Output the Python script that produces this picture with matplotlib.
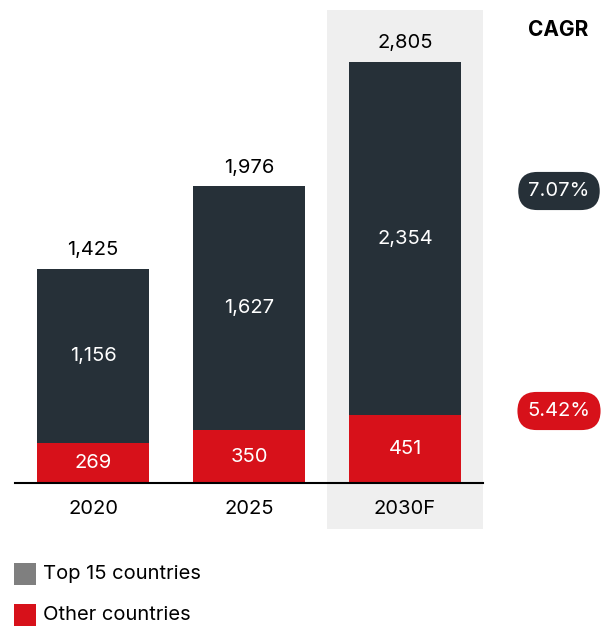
import matplotlib
matplotlib.use("Agg")
import matplotlib.pyplot as plt
import numpy as np

years = ["2020", "2025", "2030F"]
top15 = [1156, 1627, 2354]
other = [269, 350, 451]
totals = [1425, 1976, 2805]
cagr_labels = ["7.07%", "5.42%"]
legend_labels = ["Top 15 countries", "Other countries"]

DARK = "#263038"
RED = "#D7111A"
BG = "#EFEFEF"
LEG_GREY = "#7F7F7F"

plt.rcParams["font.family"] = ["Inter", "DejaVu Sans"]
FS = 14.5

W, H = 606, 626
fig = plt.figure(figsize=(W / 100, H / 100), dpi=100)

# main plotting area in pixel terms
left_px, right_px, base_px, top_px = 15, 483, 483, 10
ax = fig.add_axes([left_px / W, (H - base_px) / H,
                   (right_px - left_px) / W, (base_px - top_px) / H])

x = np.arange(len(years))
ymax = 2805 * (base_px - top_px) / (base_px - 62)
ax.set_xlim(-0.5, 2.5)
ax.set_ylim(0, ymax)

# forecast highlight band, extending under the category labels
ax_h = base_px - top_px
ax.axvspan(1.5, 2.5, ymin=-(529 - base_px) / ax_h, ymax=1, color=BG,
           zorder=0, clip_on=False, lw=0)

bw = 112 / 156
ax.bar(x, other, width=bw, color=RED, zorder=2)
ax.bar(x, top15, width=bw, bottom=other, color=DARK, zorder=2)

for i in range(len(years)):
    ax.text(x[i], other[i] / 2, f"{other[i]:,}", ha="center", va="center",
            color="white", fontsize=FS, zorder=3)
    ax.text(x[i], other[i] + top15[i] / 2, f"{top15[i]:,}", ha="center",
            va="center", color="white", fontsize=FS, zorder=3)
    ax.text(x[i], totals[i] + 125, f"{totals[i]:,}", ha="center",
            va="center", color="black", fontsize=FS, zorder=3)

ax.axhline(0, color="black", lw=1.5, zorder=4, clip_on=False)
ax.set_xticks(x)
ax.set_xticklabels(years, fontsize=FS)
ax.tick_params(axis="x", length=0, pad=12)
ax.set_yticks([])
for s in ax.spines.values():
    s.set_visible(False)
ax.patch.set_alpha(0)

# CAGR column
fig.text(558 / W, 1 - 30 / H, "CAGR", ha="center", va="center",
         fontsize=15, fontweight="bold", color="black")
for lab, yc, col in zip(cagr_labels, [191, 411], [DARK, RED]):
    fig.text(559 / W, 1 - yc / H, lab, ha="center", va="center",
             fontsize=FS, color="white",
             bbox=dict(boxstyle="round,pad=0.5,rounding_size=0.95",
                       fc=col, ec="none"))

# legend
for lab, yc, col in zip(legend_labels, [574, 615], [LEG_GREY, RED]):
    fig.patches.append(plt.Rectangle((14 / W, 1 - (yc + 11) / H), 22 / W, 22 / H,
                                     transform=fig.transFigure, color=col,
                                     lw=0))
    fig.text(43 / W, 1 - yc / H, lab, ha="left", va="center",
             fontsize=FS, color="black")

fig.savefig("out.png", dpi=100, facecolor="white")
